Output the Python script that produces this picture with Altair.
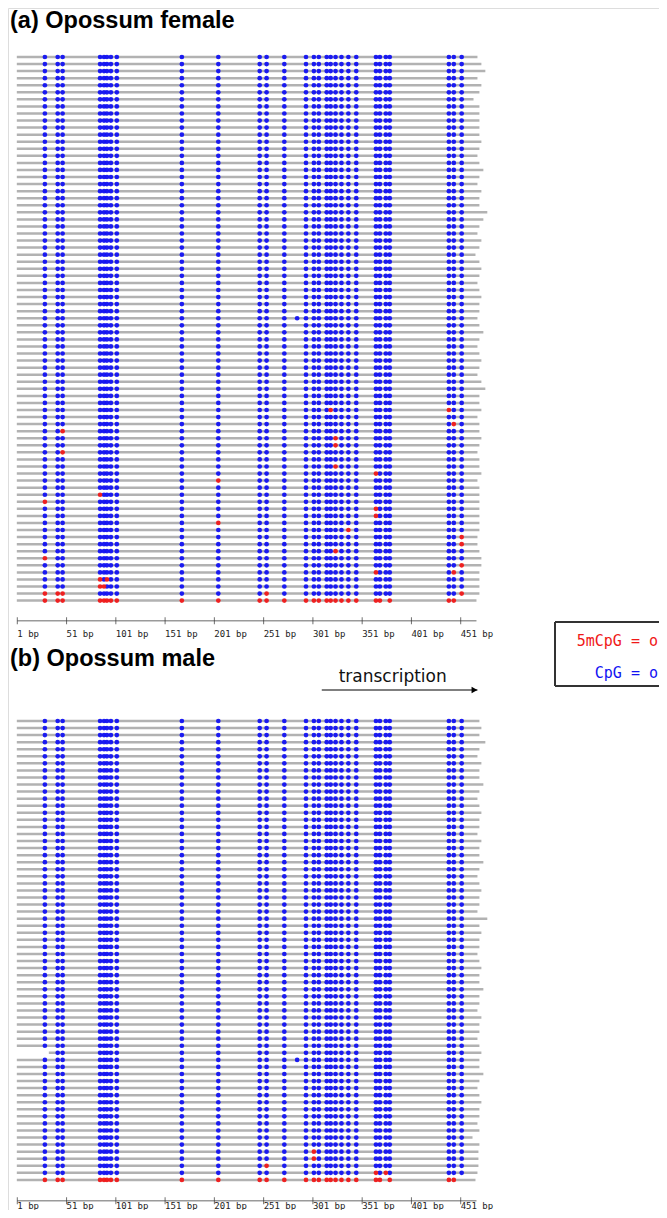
import altair as alt
import pandas as pd

# ---------------- data ----------------
SITES = [29, 42, 47, 85, 89, 92, 96, 102, 168, 205, 247, 254, 272, 294, 302, 307,
         315, 319, 324, 330, 337, 345, 365, 369, 375, 379, 439, 444, 452]
TICKS = [1, 51, 101, 151, 201, 251, 301, 351, 401, 451]
TICK_LABELS = [f"{t} bp" for t in TICKS]
LINE_START = 0.5
AXIS_END = 467

FEMALE_LINE_END = [468, 472, 476, 468, 472, 470, 464, 470, 470, 470, 470, 470, 472, 470, 468,
                   470, 474, 470, 468, 472, 470, 470, 478, 474, 470, 468, 472, 470, 466, 470,
                   472, 470, 468, 470, 472, 470, 470, 468, 470, 474, 470, 468, 470, 472, 470,
                   468, 472, 476, 470, 470, 472, 468, 470, 470, 472, 470, 468, 470, 470, 472,
                   468, 470, 470, 470, 470, 470, 470, 470, 468, 468, 470, 472, 472, 470, 470,
                   470, 470, 467]
FEMALE_METH = [(50, 319), (50, 439), (52, 444), (53, 47), (54, 324), (55, 324), (56, 47),
               (58, 324), (59, 365), (60, 205), (62, 85), (63, 29), (64, 365), (65, 365),
               (66, 205), (67, 337), (68, 452), (69, 452), (70, 324), (71, 29), (72, 452),
               (73, 365), (73, 444), (74, 85), (74, 92), (75, 85), (75, 89), (76, 29),
               (76, 42), (76, 47), (76, 254), (76, 452)]
FEMALE_ALL_METH_ROWS = [77]
FEMALE_MISSING = [(77, 375), (77, 452)]
FEMALE_EXTRA = [(37, 285)]
FEMALE_START_OVERRIDE = {}

MALE_LINE_END = [470, 472, 470, 476, 470, 468, 472, 470, 470, 474, 470, 468, 470, 472, 470,
                 470, 468, 472, 470, 470, 474, 470, 468, 470, 472, 470, 470, 468, 478, 470,
                 472, 470, 470, 468, 470, 472, 470, 470, 474, 470, 470, 468, 472, 470, 470,
                 468, 470, 472, 470, 470, 474, 470, 468, 470, 472, 470, 470, 468,
                 470, 463, 470, 469, 469, 469, 468, 466]
MALE_METH = [(61, 302), (62, 302), (63, 254), (64, 365), (64, 375)]
MALE_ALL_METH_ROWS = [65]
MALE_MISSING = [(65, 375), (65, 452), (47, 29)]
MALE_EXTRA = [(48, 285)]
MALE_START_OVERRIDE = {47: 33}

TITLE_A = "(a) Opossum female"
TITLE_B = "(b) Opossum male"
ARROW = [310, 468]
ARROW_LABEL = "transcription"
ARROW_LABEL_POS = 382
LEGEND_LABELS = ["5mCpG = o", "CpG = o"]

BLUE = "#1212f2"
RED = "#f01818"
LINE_GRAY = "#b2b2b2"
ROW_STEP = 7.06

# ---------------- build tables ----------------
def panel_tables(line_end, meth, all_rows, missing, extra, start_override):
    n = len(line_end)
    lines = pd.DataFrame({
        "row": list(range(n)),
        "start": [start_override.get(r, LINE_START) for r in range(n)],
        "end": line_end,
    })
    meth_s, miss_s = set(meth), set(missing)
    recs = []
    for r in range(n):
        for s in SITES:
            if (r, s) in miss_s:
                continue
            st = "5mCpG" if (r in all_rows or (r, s) in meth_s) else "CpG"
            recs.append({"row": r, "pos": s, "status": st})
    for r, s in extra:
        recs.append({"row": r, "pos": s, "status": "CpG"})
    dots = pd.DataFrame(recs)
    dots["o"] = (dots["status"] == "5mCpG").astype(int)
    dots = dots.sort_values("o", kind="stable")
    return lines, dots

fl, fd = panel_tables(FEMALE_LINE_END, FEMALE_METH, FEMALE_ALL_METH_ROWS, FEMALE_MISSING,
                      FEMALE_EXTRA, FEMALE_START_OVERRIDE)
ml, md = panel_tables(MALE_LINE_END, MALE_METH, MALE_ALL_METH_ROWS, MALE_MISSING,
                      MALE_EXTRA, MALE_START_OVERRIDE)

X = alt.Scale(domain=[1, 451], range=[9.3, 452.7], nice=False, zero=False)
COLOR = alt.Scale(domain=["CpG", "5mCpG"], range=[BLUE, RED])


def yscale(n, top):
    return alt.Scale(domain=[0, n - 1], range=[top, top + (n - 1) * ROW_STEP],
                     nice=False, zero=False)


def panel(lines, dots, top, axis_y, label_y, title, title_y):
    ys = yscale(len(lines), top)
    ln = alt.Chart(lines).mark_rule(color=LINE_GRAY, strokeWidth=2.5).encode(
        x=alt.X("start:Q", scale=X, axis=None), x2="end:Q",
        y=alt.Y("row:Q", scale=ys, axis=None))
    dt = alt.Chart(dots).mark_circle(size=22, opacity=0.95).encode(
        x=alt.X("pos:Q", scale=X, axis=None),
        y=alt.Y("row:Q", scale=ys, axis=None),
        color=alt.Color("status:N", scale=COLOR, legend=None))
    ax = alt.Chart(pd.DataFrame({"a": [1], "b": [AXIS_END]})).mark_rule(
        color="#9a9a9a", strokeWidth=1.5).encode(
        x=alt.X("a:Q", scale=X, axis=None), x2="b:Q", y=alt.value(axis_y))
    tk_df = pd.DataFrame({"t": TICKS, "lab": TICK_LABELS})
    tk = alt.Chart(tk_df).mark_tick(orient="vertical", size=7, thickness=1,
                                    color="#333333").encode(
        x=alt.X("t:Q", scale=X, axis=None), y=alt.value(axis_y))
    tl = alt.Chart(tk_df).mark_text(align="left", baseline="middle",
                                    font="DejaVu Sans Mono", fontSize=9,
                                    color="#222222").encode(
        x=alt.X("t:Q", scale=X, axis=None), y=alt.value(label_y), text="lab:N")
    tt = alt.Chart(pd.DataFrame({"t": [title]})).mark_text(
        align="left", baseline="alphabetic", font="Liberation Sans", fontWeight="bold",
        fontSize=23.5, color="#000000").encode(
        x=alt.value(2), y=alt.value(title_y), text="t:N")
    return [ln, dt, ax, tk, tl, tt]


layers = []
layers += panel(fl, fd, 49, 612.7, 625.5, TITLE_A, 20)
layers += panel(ml, md, 713, 1192.7, 1198, TITLE_B, 658)

# transcription arrow
arr = alt.Chart(pd.DataFrame({"a": [ARROW[0]], "b": [ARROW[1]]})).mark_rule(
    color="black", strokeWidth=1.2).encode(
    x=alt.X("a:Q", scale=X, axis=None), x2="b:Q", y=alt.value(682))
head = alt.Chart(pd.DataFrame({"a": [ARROW[1] - 3]})).mark_point(
    shape="triangle-right", filled=True, size=45, color="black", opacity=1).encode(
    x=alt.X("a:Q", scale=X, axis=None), y=alt.value(682))
atxt = alt.Chart(pd.DataFrame({"t": [ARROW_LABEL], "c": [ARROW_LABEL_POS]})).mark_text(
    align="center", baseline="middle", font="DejaVu Sans", fontSize=17, color="#111111").encode(
    x=alt.X("c:Q", scale=X, axis=None), y=alt.value(669), text="t:N")
layers += [arr, head, atxt]

# legend box
box_l = alt.Chart(pd.DataFrame({"k": [0]})).mark_rule(color="#333333", strokeWidth=2).encode(
    x=alt.value(547), y=alt.value(614), y2=alt.value(678))
box_t = alt.Chart(pd.DataFrame({"k": [0]})).mark_rule(color="#333333", strokeWidth=2).encode(
    x=alt.value(547), x2=alt.value(660), y=alt.value(614))
box_b = alt.Chart(pd.DataFrame({"k": [0]})).mark_rule(color="#333333", strokeWidth=2).encode(
    x=alt.value(547), x2=alt.value(660), y=alt.value(678))
leg1 = alt.Chart(pd.DataFrame({"t": [LEGEND_LABELS[0]]})).mark_text(
    align="right", baseline="middle", font="DejaVu Sans Mono", fontSize=15, color=RED).encode(
    x=alt.value(650), y=alt.value(633), text="t:N")
leg2 = alt.Chart(pd.DataFrame({"t": [LEGEND_LABELS[1]]})).mark_text(
    align="right", baseline="middle", font="DejaVu Sans Mono", fontSize=15, color=BLUE).encode(
    x=alt.value(650), y=alt.value(665), text="t:N")
layers += [box_l, box_t, box_b, leg1, leg2]

chart = alt.layer(*layers).resolve_scale(y="independent").properties(
    width=651, height=1202, padding=0,
    autosize=alt.AutoSizeParams(type="none"),
).configure_view(strokeWidth=0, stroke="transparent").configure(background="white")

chart.save("out.html", embed_options={"renderer": "svg", "actions": False})
